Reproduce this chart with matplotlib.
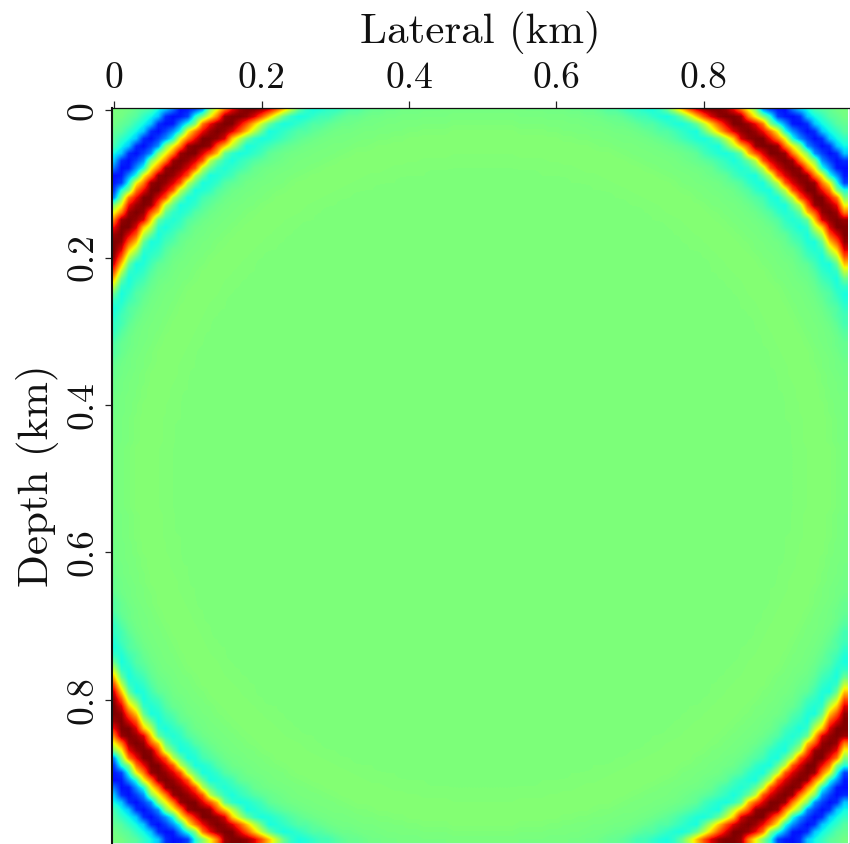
import numpy as np
import matplotlib
matplotlib.use("Agg")
import matplotlib.pyplot as plt

# Amplitude of the wavefront, by distance from the centre (one entry per 0.005 km from 0.42)
radius_start = 0.42
radius_step = 0.005
amplitude_by_radius = [0.008, 0.010, 0.012, 0.014, 0.016, 0.018, 0.020, 0.022,
                       0.022, 0.020, 0.018, 0.012, 0.006, 0.000, -0.004, -0.008, -0.012, -0.018,
                       -0.025, -0.035, -0.05, -0.07, -0.10, -0.14, -0.18, -0.22, -0.24, -0.18,
                       -0.05, 0.16, 0.40, 0.64, 0.84, 0.96, 1.00, 1.00, 0.95, 0.80,
                       0.56, 0.28, 0.02, -0.22, -0.46, -0.62, -0.70, -0.72, -0.66, -0.52,
                       -0.36, -0.26, -0.18, -0.13, -0.09, -0.06, -0.04, -0.02, -0.01, 0.00]
lateral_km = np.arange(100) * 0.01
depth_km = np.arange(100) * 0.01
centre_km = 0.5
x_ticks = [0, 0.2, 0.4, 0.6, 0.8]
x_tick_labels = ["0", "0.2", "0.4", "0.6", "0.8"]
y_ticks = [0, 0.2, 0.4, 0.6, 0.8]
y_tick_labels = ["0", "0.2", "0.4", "0.6", "0.8"]

X, Y = np.meshgrid(lateral_km, depth_km)
R = np.hypot(X - centre_km, Y - centre_km)
bins = np.round((R - radius_start) / radius_step).astype(int)
lookup = np.array(amplitude_by_radius)
field = np.where(bins < 0, 0.0, lookup[np.clip(bins, 0, len(lookup) - 1)])

FONT = "cmr10"
plt.rcParams["axes.formatter.use_mathtext"] = True
fig = plt.figure(figsize=(8.5, 8.44), dpi=100)
ax = fig.add_axes([112 / 850, 0, (849.5 - 112) / 850, (844 - 108) / 844])
ax.imshow(field, cmap="jet", vmin=-1, vmax=1, aspect="auto", interpolation="bilinear",
          extent=(-0.005, 0.995, 0.995, -0.005))
ax.set_xlim(-0.003, 0.9975)
ax.set_ylim(0.996, -0.003)

ax.xaxis.tick_top()
ax.xaxis.set_label_position("top")
ax.set_xticks(x_ticks, x_tick_labels, fontsize=27, family=FONT)
ax.set_yticks(y_ticks, y_tick_labels, fontsize=27, family=FONT, rotation=90, va="center")
ax.tick_params(axis="both", length=5, width=0.9, color="#222222", pad=4, labelcolor="#111111")
ax.set_xlabel("Lateral (km)", fontsize=31, family=FONT, color="#111111")
ax.set_ylabel("Depth (km)", fontsize=31, family=FONT, color="#111111")
ax.xaxis.set_label_coords(0.5, 1.0 + 75 / 736, transform=ax.transAxes)
ax.yaxis.set_label_coords(-74 / 737, 0.5, transform=ax.transAxes)
ax.xaxis.label.set_va("center")
ax.yaxis.label.set_va("center")
for side, lw in [("left", 1.5), ("top", 0.9), ("right", 0.9), ("bottom", 0.9)]:
    ax.spines[side].set_linewidth(lw)
    ax.spines[side].set_color("#111111")
fig.savefig("out.png", dpi=100)
